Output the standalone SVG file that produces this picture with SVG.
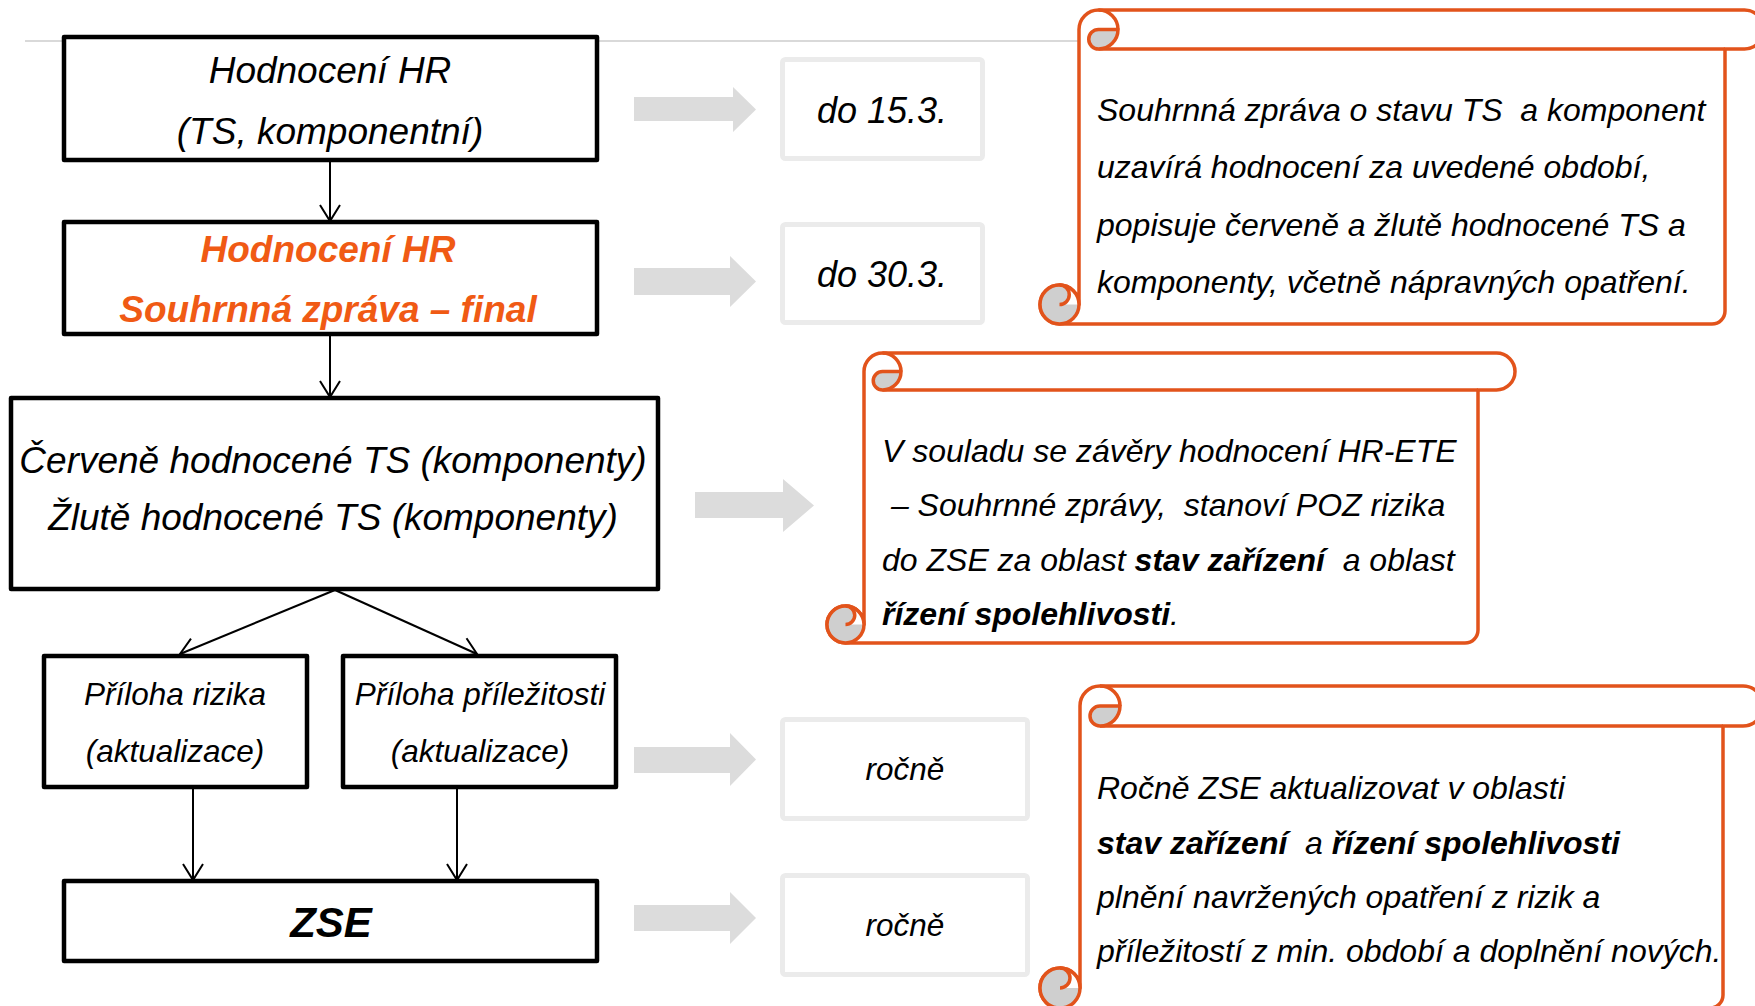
<svg xmlns="http://www.w3.org/2000/svg" width="1755" height="1006" viewBox="0 0 1755 1006">
<style>
.bg{fill:#fff}
.box{fill:#fff;stroke:#000;stroke-width:4.5;stroke-linejoin:round}
.t{font-family:"Liberation Sans",Arial,sans-serif;font-style:italic;fill:#000;white-space:pre}
.b{font-weight:bold}
.or{fill:#F05A14}
.conn{stroke:#000;stroke-width:2;fill:none;marker-end:url(#arr)}
.garrow{fill:#dcdcdc}
.gbox{fill:#fff;stroke:#ebebeb;stroke-width:5}
.scroll{fill:#fff;stroke:#E2531B;stroke-width:3.5;stroke-linejoin:round}
.sline{fill:none;stroke:#E2531B;stroke-width:3.5}
.curl{fill:#cfcfcf;stroke:#E2531B;stroke-width:3.5;stroke-linejoin:round}
.gfill{fill:#cfcfcf}
.wfill{fill:#fff}
</style>
<defs>
<marker id="arr" viewBox="-18 -12 22 24" refX="0" refY="0" markerWidth="22" markerHeight="24" markerUnits="userSpaceOnUse" orient="auto"><path d="M -16 -10 L 0 0 L -16 10" fill="none" stroke="#000" stroke-width="2"/></marker>
</defs>
<rect class="bg" x="0" y="0" width="1755" height="1006"/>
<line x1="25" y1="41" x2="1079" y2="41" stroke="#d9d9d9" stroke-width="2"/>

<g id="connectors">
<path class="conn" d="M 330 160 L 330 221"/>
<path class="conn" d="M 330 334 L 330 397"/>
<path class="conn" d="M 335 590 L 180 654"/>
<path class="conn" d="M 335 590 L 477 654"/>
<path class="conn" d="M 193 787 L 193 880"/>
<path class="conn" d="M 457 787 L 457 880"/>
</g>

<g id="block-arrows">
<path class="garrow" d="M 634 97 H 733 V 87 L 756 109.5 L 733 132 V 121 H 634 Z"/>
<path class="garrow" d="M 634 268 H 730 V 256 L 756 281.5 L 730 307 V 295 H 634 Z"/>
<path class="garrow" d="M 695 492 H 783 V 479 L 814 505.5 L 783 532 V 518 H 695 Z"/>
<path class="garrow" d="M 634 747 H 730 V 733 L 756 759.5 L 730 786 V 773 H 634 Z"/>
<path class="garrow" d="M 634 905 H 730 V 892 L 756 918 L 730 944 V 931 H 634 Z"/>
</g>

<g id="n-hodnoceni">
<rect class="box" x="64" y="37" width="533" height="123"/>
<text class="t" x="330" y="83" font-size="37" text-anchor="middle">Hodnocení HR</text>
<text class="t" x="330" y="144" font-size="37" text-anchor="middle">(TS, komponentní)</text>
</g>

<g id="n-souhrnna">
<rect class="box" x="64" y="222" width="533" height="112"/>
<text class="t b or" x="328" y="262" font-size="37" text-anchor="middle">Hodnocení HR</text>
<text class="t b or" x="328" y="322" font-size="37" text-anchor="middle">Souhrnná zpráva – final</text>
</g>

<g id="n-hodnocene">
<rect class="box" x="11" y="398" width="647" height="191"/>
<text class="t" x="333" y="473" font-size="37" text-anchor="middle">Červeně hodnocené TS (komponenty)</text>
<text class="t" x="333" y="530" font-size="37" text-anchor="middle">Žlutě hodnocené TS (komponenty)</text>
</g>

<g id="n-rizika">
<rect class="box" x="44" y="656" width="263" height="131"/>
<text class="t" x="175" y="705" font-size="31.5" text-anchor="middle">Příloha rizika</text>
<text class="t" x="175" y="762" font-size="31.5" text-anchor="middle">(aktualizace)</text>
</g>

<g id="n-prilezitosti">
<rect class="box" x="343" y="656" width="273" height="131"/>
<text class="t" x="480" y="705" font-size="31.5" text-anchor="middle">Příloha příležitosti</text>
<text class="t" x="480" y="762" font-size="31.5" text-anchor="middle">(aktualizace)</text>
</g>

<g id="n-zse">
<rect class="box" x="64" y="881" width="533" height="80"/>
<text class="t b" x="331" y="937" font-size="42" text-anchor="middle">ZSE</text>
</g>

<g id="n-do153">
<rect class="gbox" x="782.5" y="59.5" width="200" height="99" rx="3"/>
<text class="t" x="882" y="123" font-size="36" text-anchor="middle">do 15.3.</text>
</g>
<g id="n-do303">
<rect class="gbox" x="782.5" y="224.5" width="200" height="98" rx="3"/>
<text class="t" x="882" y="287" font-size="36" text-anchor="middle">do 30.3.</text>
</g>
<g id="n-rocne1">
<rect class="gbox" x="782.5" y="719.5" width="245" height="99" rx="3"/>
<text class="t" x="905" y="780" font-size="31.5" text-anchor="middle">ročně</text>
</g>
<g id="n-rocne2">
<rect class="gbox" x="782.5" y="875.5" width="245" height="99" rx="3"/>
<text class="t" x="905" y="936" font-size="31.5" text-anchor="middle">ročně</text>
</g>

<g id="n-scroll1">
<path class="scroll" d="M 1079 29.5 A 19.5 19.5 0 0 1 1098.5 10 H 1744.5 A 19.5 19.5 0 0 1 1744.5 49 H 1725 V 311 A 13 13 0 0 1 1712 324 H 1059.5 A 19.5 19.5 0 0 1 1040 304.5 A 19.5 19.5 0 0 1 1059.5 285 A 19.5 19.5 0 0 1 1079 304.5 Z"/>
<path class="sline" d="M 1098.5 49 H 1725 M 1098.5 10 A 19.5 19.5 0 0 1 1118 29.5"/>
<path class="curl" d="M 1098.5 29.5 A 9.75 9.75 0 0 0 1098.5 49 A 19.5 19.5 0 0 0 1118 29.5 Z"/>
<circle class="gfill" cx="1059.5" cy="304.5" r="19.5"/>
<path class="wfill" d="M 1059.5 285 A 19.5 19.5 0 0 1 1079 304.5 L 1059.5 304.5 A 9.75 9.75 0 0 0 1059.5 285 Z"/>
<circle class="sline" cx="1059.5" cy="304.5" r="19.5"/>
<path class="sline" d="M 1059.5 304.5 A 9.75 9.75 0 0 0 1059.5 285"/>
<text class="t" x="1097" y="120.5" font-size="32">Souhrnná zpráva o stavu TS  a komponent</text>
<text class="t" x="1097" y="178" font-size="32">uzavírá hodnocení za uvedené období,</text>
<text class="t" x="1097" y="235.5" font-size="32">popisuje červeně a žlutě hodnocené TS a</text>
<text class="t" x="1097" y="293" font-size="32">komponenty, včetně nápravných opatření.</text>
</g>

<g id="n-scroll2">
<path class="scroll" d="M 864 371.5 A 18.5 18.5 0 0 1 882.5 353 H 1496.5 A 18.5 18.5 0 0 1 1496.5 390 H 1478 V 630 A 13 13 0 0 1 1465 643 H 845.5 A 18.5 18.5 0 0 1 827 624.5 A 18.5 18.5 0 0 1 845.5 606 A 18.5 18.5 0 0 1 864 624.5 Z"/>
<path class="sline" d="M 882.5 390 H 1478 M 882.5 353 A 18.5 18.5 0 0 1 901 371.5"/>
<path class="curl" d="M 882.5 371.5 A 9.25 9.25 0 0 0 882.5 390 A 18.5 18.5 0 0 0 901 371.5 Z"/>
<circle class="gfill" cx="845.5" cy="624.5" r="18.5"/>
<path class="wfill" d="M 845.5 606 A 18.5 18.5 0 0 1 864 624.5 L 845.5 624.5 A 9.25 9.25 0 0 0 845.5 606 Z"/>
<circle class="sline" cx="845.5" cy="624.5" r="18.5"/>
<path class="sline" d="M 845.5 624.5 A 9.25 9.25 0 0 0 845.5 606"/>
<text class="t" x="882" y="462" font-size="32">V souladu se závěry hodnocení HR-ETE</text>
<text class="t" x="882" y="516" font-size="32"> – Souhrnné zprávy,  stanoví POZ rizika</text>
<text class="t" x="882" y="570.5" font-size="32">do ZSE za oblast <tspan class="b">stav zařízení</tspan>  a oblast</text>
<text class="t" x="882" y="624.5" font-size="32"><tspan class="b">řízení spolehlivosti</tspan>.</text>
</g>

<g id="n-scroll3">
<path class="scroll" d="M 1080 706 A 20 20 0 0 1 1100 686 H 1743 A 20 20 0 0 1 1743 726 H 1723 V 995 A 13 13 0 0 1 1710 1008 H 1060 A 20 20 0 0 1 1040 988 A 20 20 0 0 1 1060 968 A 20 20 0 0 1 1080 988 Z"/>
<path class="sline" d="M 1100 726 H 1723 M 1100 686 A 20 20 0 0 1 1120 706"/>
<path class="curl" d="M 1100 706 A 10 10 0 0 0 1100 726 A 20 20 0 0 0 1120 706 Z"/>
<circle class="gfill" cx="1060" cy="988" r="20"/>
<path class="wfill" d="M 1060 968 A 20 20 0 0 1 1080 988 L 1060 988 A 10 10 0 0 0 1060 968 Z"/>
<circle class="sline" cx="1060" cy="988" r="20"/>
<path class="sline" d="M 1060 988 A 10 10 0 0 0 1060 968"/>
<text class="t" x="1097" y="799" font-size="32">Ročně ZSE aktualizovat v oblasti</text>
<text class="t" x="1097" y="853.5" font-size="32"><tspan class="b">stav zařízení</tspan>  a <tspan class="b">řízení spolehlivosti</tspan></text>
<text class="t" x="1097" y="908" font-size="32">plnění navržených opatření z rizik a</text>
<text class="t" x="1097" y="962" font-size="32">příležitostí z min. období a doplnění nových.</text>
</g>
</svg>
